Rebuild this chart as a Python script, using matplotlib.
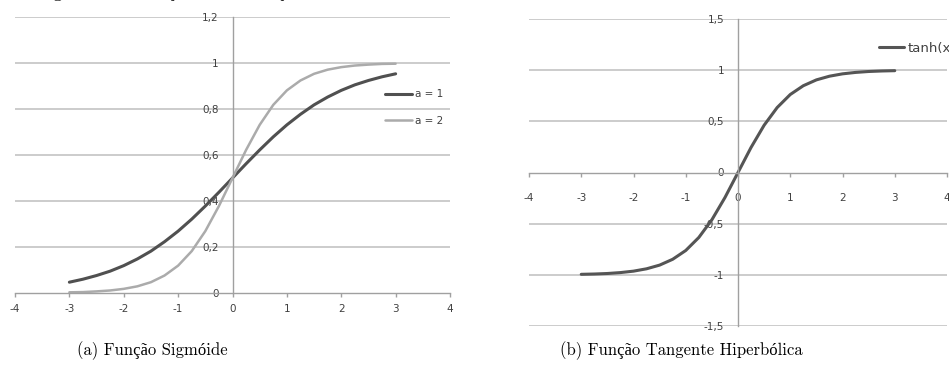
import matplotlib
matplotlib.use('Agg')
import matplotlib.pyplot as plt

# x values used by both charts
x_vals = [-3, -2.75, -2.5, -2.25, -2, -1.75, -1.5, -1.25, -1, -0.75, -0.5, -0.25, 0,
          0.25, 0.5, 0.75, 1, 1.25, 1.5, 1.75, 2, 2.25, 2.5, 2.75, 3]

# sigmoid, a = 1
sig_a1 = [0.047, 0.060, 0.076, 0.095, 0.119, 0.148, 0.182, 0.223, 0.269, 0.321, 0.378, 0.438, 0.5,
          0.562, 0.622, 0.679, 0.731, 0.777, 0.818, 0.852, 0.881, 0.905, 0.924, 0.940, 0.953]
# sigmoid, a = 2
sig_a2 = [0.003, 0.004, 0.007, 0.011, 0.018, 0.029, 0.047, 0.076, 0.119, 0.182, 0.269, 0.378, 0.5,
          0.622, 0.731, 0.818, 0.881, 0.924, 0.953, 0.971, 0.982, 0.989, 0.993, 0.996, 0.997]
# tanh
tanh_vals = [-0.995, -0.992, -0.987, -0.978, -0.964, -0.941, -0.905, -0.848, -0.762, -0.635, -0.462, -0.245, 0.0,
             0.245, 0.462, 0.635, 0.762, 0.848, 0.905, 0.941, 0.964, 0.978, 0.987, 0.992, 0.995]

x_ticks = [-4, -3, -2, -1, 0, 1, 2, 3, 4]
x_labels = ['-4', '-3', '-2', '-1', '0', '1', '2', '3', '4']
sig_yticks = [0, 0.2, 0.4, 0.6, 0.8, 1, 1.2]
sig_ylabels = ['0', '0,2', '0,4', '0,6', '0,8', '1', '1,2']
tanh_yticks = [-1.5, -1, -0.5, 0, 0.5, 1, 1.5]
tanh_ylabels = ['-1,5', '-1', '-0,5', '0', '0,5', '1', '1,5']

grid_color = '#c4c4c4'
label_color = '#404040'
caption_font = ['cmr10', 'Liberation Serif']

fig = plt.figure(figsize=(9.49, 3.81), dpi=100)

W, H = 949, 381
ax1 = fig.add_axes([15 / W, (H - 293) / H, 435 / W, 276 / H])
ax2 = fig.add_axes([529 / W, (H - 326) / H, 418 / W, 307 / H])


def style_axis(ax, yticks, ylabels, xpad):
    ax.set_xlim(-4, 4)
    ax.set_ylim(yticks[0], yticks[-1])
    for s in ['top', 'right']:
        ax.spines[s].set_visible(False)
    ax.spines['left'].set_position(('data', 0))
    ax.spines['bottom'].set_position(('data', 0))
    ax.spines['left'].set_color('#a0a0a0')
    ax.spines['bottom'].set_color('#a0a0a0')
    ax.spines['left'].set_linewidth(1.0)
    ax.spines['bottom'].set_linewidth(1.0)
    ax.set_xticks(x_ticks)
    ax.set_xticklabels(x_labels)
    ax.set_yticks(yticks)
    ax.set_yticklabels(ylabels)
    ax.tick_params(axis='x', direction='out', length=3, width=1, color='#a0a0a0',
                   labelsize=7.5, labelcolor=label_color, pad=xpad)
    ax.tick_params(axis='y', length=0, labelsize=7.5, labelcolor=label_color, pad=10)
    for y in yticks:
        if y != 0:
            ax.axhline(y, color=grid_color, lw=1.2, zorder=0)
    ax.set_facecolor('none')


style_axis(ax1, sig_yticks, sig_ylabels, 5)
style_axis(ax2, tanh_yticks, tanh_ylabels, 12)

ax1.plot(x_vals, sig_a1, color='#505050', lw=2.2, label='a = 1', solid_capstyle='round')
ax1.plot(x_vals, sig_a2, color='#ababab', lw=1.8, label='a = 2', solid_capstyle='round')
ax1.legend(loc='upper left', bbox_to_anchor=(380 / W, (H - 84) / H), bbox_transform=fig.transFigure,
           frameon=False, fontsize=7.5, handlelength=2.6, handletextpad=0.3,
           labelspacing=1.6, borderpad=0, labelcolor=label_color)

ax2.plot(x_vals, tanh_vals, color='#555555', lw=2.2, label='tanh(x)', solid_capstyle='round')
ax2.legend(loc='upper left', bbox_to_anchor=(872 / W, (H - 35) / H), bbox_transform=fig.transFigure,
           frameon=False, fontsize=9.5, handlelength=1.9, handletextpad=0.3,
           borderpad=0, labelcolor=label_color)

# captions
fig.text(152 / W, (H - 351) / H, '(a) Função Sigmóide', ha='center', va='center',
         fontsize=12, family=caption_font)
fig.text(681 / W, (H - 351) / H, '(b) Função Tangente Hiperbólica', ha='center', va='center',
         fontsize=12, family=caption_font)

# figure caption line cut off at the top of the picture
fig.text(35 / W, 1 + 3 / H, 'Figura 2.3: Funções de ativação', ha='left', va='baseline',
         fontsize=14, family=caption_font)

fig.savefig('out.png', dpi=100)
